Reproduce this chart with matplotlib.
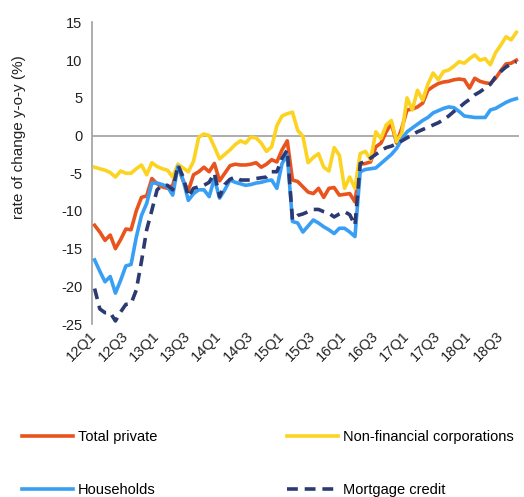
import matplotlib
matplotlib.use("Agg")
import matplotlib.pyplot as plt
import numpy as np

plt.rcParams['font.family'] = ['Liberation Sans', 'DejaVu Sans']

# Monthly data, Jan 2012 .. Oct 2018
total_private = [
    -11.9, -12.8, -13.9, -13.2, -15.0, -13.8, -12.4, -12.5, -10.0, -8.2,
    -8.0, -5.7, -6.4, -6.8, -7.0, -6.6, -4.1, -6.0, -7.3, -5.2,
    -4.8, -4.2, -4.8, -3.7, -6.0, -5.0, -4.0, -3.8, -3.9, -3.9,
    -3.8, -3.6, -4.2, -3.8, -3.2, -3.5, -1.9, -0.7, -5.9, -6.1,
    -6.8, -7.5, -7.7, -7.0, -8.2, -7.0, -6.9, -7.9, -7.8, -7.7,
    -8.8, -3.8, -3.7, -3.5, -1.5, -1.0, 0.5, 1.6, -1.0, 1.0,
    3.4, 3.5, 3.8, 4.3, 6.0, 6.5, 6.9, 7.1, 7.2, 7.4,
    7.5, 7.4, 6.3, 7.6, 7.2, 7.0, 6.9, 7.6, 8.6, 9.5,
    9.6, 10.0]

non_financial = [
    -4.2, -4.4, -4.6, -4.9, -5.5, -4.7, -5.0, -5.0, -4.4, -3.9,
    -5.2, -3.6, -4.1, -4.4, -4.6, -5.5, -3.8, -4.3, -4.8, -3.4,
    -0.2, 0.2, 0.0, -1.5, -3.1, -2.5, -1.9, -1.2, -0.7, -1.0,
    -0.2, -0.3, -1.0, -2.1, -1.5, 1.3, 2.6, 2.9, 3.1, 0.7,
    -0.1, -3.6, -2.9, -2.4, -4.2, -4.7, -1.6, -2.6, -7.0, -5.5,
    -7.0, -2.4, -2.1, -3.2, 0.5, -0.4, 1.4, 2.0, -0.8, 0.3,
    5.0, 3.4, 6.0, 4.7, 6.8, 8.3, 7.4, 8.5, 8.7, 9.2,
    9.8, 9.6, 10.2, 10.7, 10.0, 10.2, 9.4, 11.0, 12.0, 13.1,
    12.7, 13.7]

households = [
    -16.5, -18.0, -19.4, -18.7, -20.9, -19.2, -17.3, -17.1, -13.5, -10.6,
    -9.0, -6.3, -6.3, -6.5, -6.8, -7.9, -4.1, -5.9, -8.6, -7.7,
    -7.2, -7.2, -8.1, -5.7, -8.3, -7.2, -5.9, -6.2, -6.4, -6.6,
    -6.5, -6.3, -6.2, -6.0, -5.9, -7.0, -3.7, -2.6, -11.4, -11.6,
    -12.8, -12.0, -11.2, -11.6, -12.1, -12.5, -13.0, -12.3, -12.3, -12.8,
    -13.4, -4.8, -4.5, -4.4, -4.3, -3.7, -3.1, -2.5, -1.7, -0.5,
    0.5, 1.0, 1.5, 2.0, 2.4, 3.0, 3.3, 3.6, 3.8, 3.7,
    3.2, 2.6, 2.5, 2.4, 2.4, 2.4, 3.4, 3.6, 4.0, 4.4,
    4.7, 4.9]

mortgage = [
    -20.3, -23.0, -23.5, -23.5, -24.6, -23.4, -22.4, -22.3, -20.5, -16.7,
    -12.5, -9.9, -7.2, -6.6, -6.6, -7.2, -3.9, -5.5, -8.1, -7.0,
    -6.8, -6.6, -6.2, -5.0, -8.1, -6.5, -5.8, -5.5, -5.9, -5.9,
    -5.9, -5.7, -5.6, -5.5, -4.8, -4.8, -3.0, -1.9, -11.2, -10.6,
    -10.4, -10.1, -9.8, -9.8, -10.1, -10.3, -10.8, -10.4, -10.1, -10.5,
    -11.9, -3.7, -3.4, -3.0, -2.5, -2.0, -1.6, -1.4, -1.1, -0.7,
    -0.3, 0.1, 0.5, 0.8, 1.1, 1.4, 1.7, 2.1, 2.6, 3.2,
    3.7, 4.3, 4.8, 5.4, 5.8, 6.3, 6.8, 7.8, 8.5, 9.1,
    9.5, 9.8]

tick_labels = ["12Q1", "12Q3", "13Q1", "13Q3", "14Q1", "14Q3", "15Q1",
               "15Q3", "16Q1", "16Q3", "17Q1", "17Q3", "18Q1", "18Q3"]

series_names = ["Total private", "Non-financial corporations",
                "Households", "Mortgage credit"]

W, H = 524, 497
fig = plt.figure(figsize=(W / 100, H / 100), dpi=100)
ax = fig.add_axes([92 / W, 1 - 324 / H, (519 - 92) / W, (324 - 22.5) / H])

x = np.arange(len(total_private))
lw = 2.6
l1, = ax.plot(x, total_private, color='#E9541E', lw=lw, label=series_names[0], zorder=3)
l2, = ax.plot(x, non_financial, color='#FDD322', lw=lw, label=series_names[1], zorder=3)
l3, = ax.plot(x, households, color='#389FF5', lw=lw, label=series_names[2], zorder=3)
l4, = ax.plot(x, mortgage, color='#2C3A73', lw=lw, ls=(0, (3.0, 1.9)),
              label=series_names[3], zorder=4)

ax.axhline(0, color='#A0A0A0', lw=1.2, zorder=1)
ax.set_xlim(-0.5, len(x) - 0.5)
ax.set_ylim(-25, 15)
ax.set_yticks(np.arange(-25, 16, 5))
ax.set_yticklabels([str(v) for v in range(-25, 16, 5)], fontsize=10.5, color='#222222')
ax.set_xticks(np.arange(0, len(x), 6)[:len(tick_labels)])
ax.set_xticklabels(tick_labels, fontsize=10.5, color='#222222', rotation=45,
                   ha='right', va='center', rotation_mode='anchor')
ax.tick_params(axis='both', length=0)
ax.tick_params(axis='y', pad=7)
ax.tick_params(axis='x', pad=7)
for s in ['top', 'right', 'bottom']:
    ax.spines[s].set_visible(False)
ax.spines['left'].set_color('#A0A0A0')
ax.spines['left'].set_linewidth(1.2)

fig.text(19 / W, 1 - 137 / H, 'rate of change y-o-y (%)', rotation=90,
         ha='center', va='center', fontsize=11, color='#222222')

fig.legend(handles=[l1, l3, l2, l4], labels=[series_names[0], series_names[2],
                                             series_names[1], series_names[3]],
           ncol=2, loc='upper left', bbox_to_anchor=(22 / W, 1 - 430 / H),
           frameon=False, fontsize=10.5, handlelength=3.5, handletextpad=0.35,
           columnspacing=8.9, labelspacing=2.7, borderpad=0, borderaxespad=0)

fig.savefig('out.png', dpi=100)
